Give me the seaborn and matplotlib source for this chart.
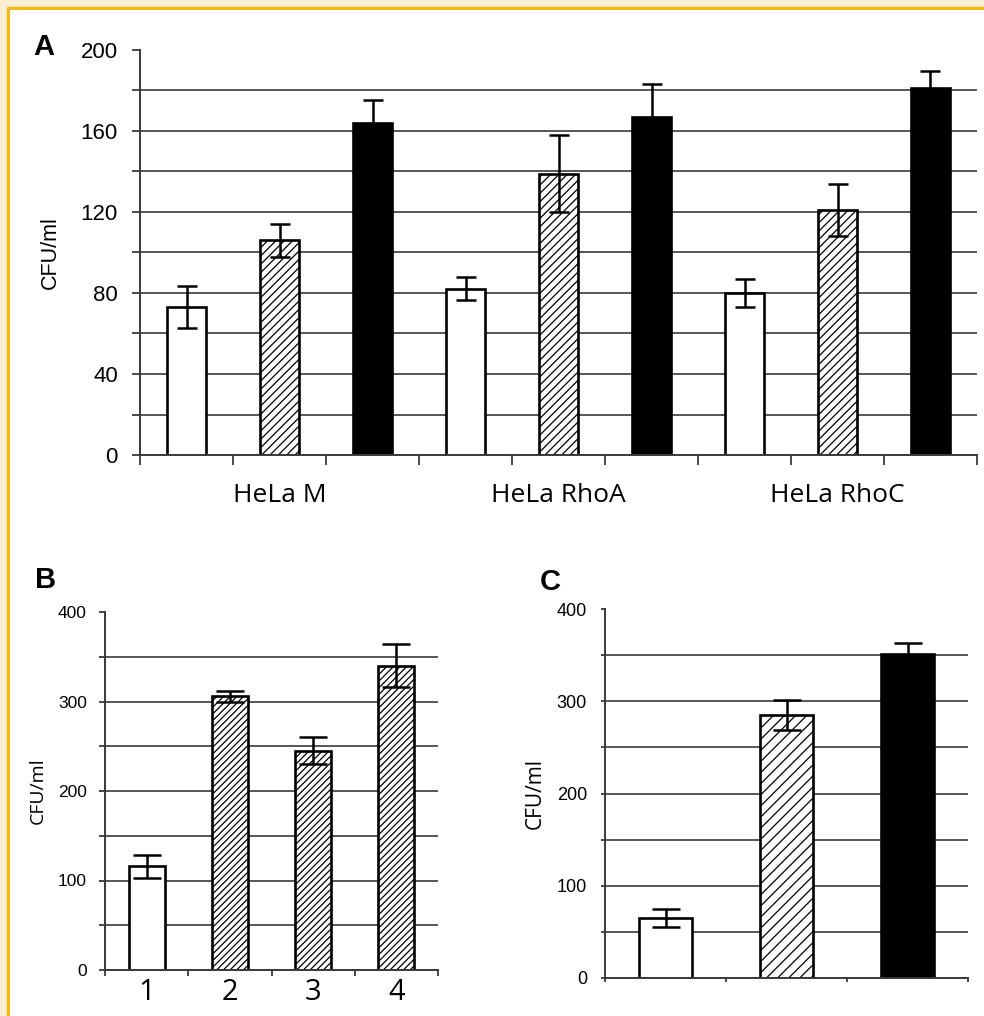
"""Recreation of the three-panel CFU/ml bar figure (A, B, C)."""

import matplotlib
matplotlib.use("Agg")
import matplotlib.pyplot as plt
from matplotlib.patches import Rectangle
from matplotlib.lines import Line2D
import numpy as np
import pandas as pd
import seaborn as sns

sns.set_theme(style="white")
plt.rcParams["font.family"] = ["Liberation Sans", "DejaVu Sans"]
plt.rcParams["hatch.linewidth"] = 0.9
plt.rcParams["text.color"] = "black"
plt.rcParams["axes.labelcolor"] = "black"
plt.rcParams["xtick.color"] = "black"
plt.rcParams["ytick.color"] = "black"

# ---- data -------------------------------------------------------------
# panel A: three cell lines x three conditions (open / hatched / solid)
groups_a = ["HeLa M", "HeLa RhoA", "HeLa RhoC"]
conditions = ["open", "hatched", "solid"]
open_a = [73, 82, 80]
hatched_a = [106, 139, 121]
solid_a = [164, 167, 181]
open_a_err = [10.5, 5.7, 6.7]
hatched_a_err = [8, 19, 13]
solid_a_err = [11.5, 16, 8.5]

# panel B
labels_b = ["1", "2", "3", "4"]
values_b = [116, 306, 245, 340]
err_b = [13, 6, 15, 24]
styles_b = ["open", "hatched", "hatched", "hatched"]

# panel C
labels_c = ["c1", "c2", "c3"]
values_c = [65, 285, 351]
err_c = [10, 16, 12]
styles_c = ["open", "hatched", "solid"]

W, H = 984, 1016
GRID = "#3a3a3a"
HUMANIST = ["Open Sans", "DejaVu Sans"]
GOLD = "#f4b914"


def style_bar(bar, kind, hatch):
    bar.set_edgecolor("black")
    bar.set_linewidth(1.9)
    if kind == "solid":
        bar.set_facecolor("black")
    else:
        bar.set_facecolor("white")
        if kind == "hatched":
            bar.set_hatch(hatch)


def finish_axes(ax, step, top, tick_len, pad, size):
    ax.set_ylim(0, top)
    ax.set_yticks(np.arange(0, top + 1, 2 * step))
    ax.set_yticks(np.arange(step, top, 2 * step), minor=True)
    ax.tick_params(axis="y", which="both", direction="out", length=tick_len,
                   width=1.3, color=GRID, pad=pad, labelsize=size, left=True)
    ax.grid(axis="y", which="both", color=GRID, linewidth=1.2)
    ax.yaxis.get_gridlines()[-1].set_visible(False)
    ax.set_axisbelow(True)
    for s in ["top", "right"]:
        ax.spines[s].set_visible(False)
    for s in ["left", "bottom"]:
        ax.spines[s].set_color(GRID)
        ax.spines[s].set_linewidth(1.4)
    ax.set_facecolor("none")


def px_axes(fig, x0, x1, y_top, y_bot):
    return fig.add_axes([x0 / W, 1 - y_bot / H, (x1 - x0) / W, (y_bot - y_top) / H])


fig = plt.figure(figsize=(W / 100, H / 100), dpi=100, facecolor="#fcedd3")
fig.patches.append(Rectangle((9 / W, 0), 1, 1 - 9 / H, transform=fig.transFigure,
                             facecolor="white", edgecolor="none", zorder=-10))
fig.add_artist(Line2D([7.5 / W, 7.5 / W], [0, 1 - 7.5 / H], color=GOLD, lw=2.3,
                      zorder=-5))
fig.add_artist(Line2D([7.5 / W, 1], [1 - 7.5 / H, 1 - 7.5 / H], color=GOLD, lw=2.3,
                      zorder=-5))

# ---- panel A -------------------------------------------------------------
df_a = pd.DataFrame({
    "group": np.repeat(groups_a, 3),
    "cond": conditions * 3,
    "value": np.array([open_a, hatched_a, solid_a]).T.ravel(),
})
err_table_a = [open_a_err, hatched_a_err, solid_a_err]
val_table_a = [open_a, hatched_a, solid_a]

ax_a = px_axes(fig, 140, 977, 50, 455)
sns.barplot(data=df_a, x="group", y="value", hue="cond", order=groups_a,
            hue_order=conditions, width=1.0, gap=0.57, legend=False, ax=ax_a,
            err_kws={"linewidth": 0})
bar_sets = list(ax_a.containers)
for k, cont in enumerate(bar_sets):
    for j, bar in enumerate(cont):
        style_bar(bar, conditions[k], "////")
        xc = bar.get_x() + bar.get_width() / 2
        ax_a.errorbar(xc, val_table_a[k][j], yerr=err_table_a[k][j], color="black",
                      lw=1.8, capsize=7.5, capthick=1.8, zorder=5)
finish_axes(ax_a, 20, 200, 6, 10, 16)
ax_a.set_xlim(-0.5, 2.5)
ax_a.set_xticks(np.linspace(-0.5, 2.5, 10), minor=True)
ax_a.tick_params(axis="x", which="minor", direction="out", length=7, width=1.3,
                 color=GRID, bottom=True)
ax_a.tick_params(axis="x", which="major", length=0, pad=20)
for t in ax_a.get_xticklabels():
    t.set_fontfamily(HUMANIST)
    t.set_fontsize(19)
ax_a.set_xlabel("")
ax_a.set_ylabel("CFU/ml", fontsize=15.5, labelpad=14)
fig.text(33 / W, 1 - 55 / H, "A", fontsize=21, fontweight="bold")

# ---- panel B -------------------------------------------------------------
df_b = pd.DataFrame({"label": labels_b, "value": values_b})
ax_b = px_axes(fig, 105, 438, 612, 970)
sns.barplot(data=df_b, x="label", y="value", order=labels_b, width=0.43,
            ax=ax_b, err_kws={"linewidth": 0})
bars_b = list(ax_b.patches)
for j, bar in enumerate(bars_b):
    style_bar(bar, styles_b[j], "/////")
    xc = bar.get_x() + bar.get_width() / 2
    ax_b.errorbar(xc, values_b[j], yerr=err_b[j], color="black", lw=1.8,
                  capsize=10, capthick=1.8, zorder=5)
finish_axes(ax_b, 50, 400, 4, 9, 12.5)
ax_b.set_xlim(-0.5, 3.5)
ax_b.set_xticks(np.arange(-0.5, 3.6, 1.0), minor=True)
ax_b.tick_params(axis="x", which="minor", direction="out", length=4, width=1.3,
                 color=GRID, bottom=True)
ax_b.tick_params(axis="x", which="major", length=0, pad=6)
for t in ax_b.get_xticklabels():
    t.set_fontfamily(HUMANIST)
    t.set_fontsize(21)
ax_b.set_xlabel("")
ax_b.set_ylabel("CFU/ml", fontsize=14, family=HUMANIST, labelpad=8)
fig.text(35 / W, 1 - 588 / H, "B", fontsize=21, fontweight="bold")

# ---- panel C -------------------------------------------------------------
df_c = pd.DataFrame({"label": labels_c, "value": values_c})
ax_c = px_axes(fig, 605, 968, 609, 978)
sns.barplot(data=df_c, x="label", y="value", order=labels_c, width=0.43,
            ax=ax_c, err_kws={"linewidth": 0})
bars_c = list(ax_c.patches)
for j, bar in enumerate(bars_c):
    style_bar(bar, styles_c[j], "///")
    xc = bar.get_x() + bar.get_width() / 2
    ax_c.errorbar(xc, values_c[j], yerr=err_c[j], color="black", lw=1.8,
                  capsize=10, capthick=1.8, zorder=5)
finish_axes(ax_c, 50, 400, 3, 10, 13)
ax_c.set_xlim(-0.5, 2.5)
ax_c.set_xticks([])
ax_c.set_xticks(np.arange(-0.5, 2.6, 1.0), minor=True)
ax_c.tick_params(axis="x", which="minor", direction="out", length=3, width=1.3,
                 color=GRID, bottom=True)
ax_c.set_xlabel("")
ax_c.set_ylabel("CFU/ml", fontsize=15, family=HUMANIST, labelpad=8)
fig.text(540 / W, 1 - 590 / H, "C", fontsize=21, fontweight="bold")

fig.savefig("out.png", dpi=100)
plt.close(fig)
